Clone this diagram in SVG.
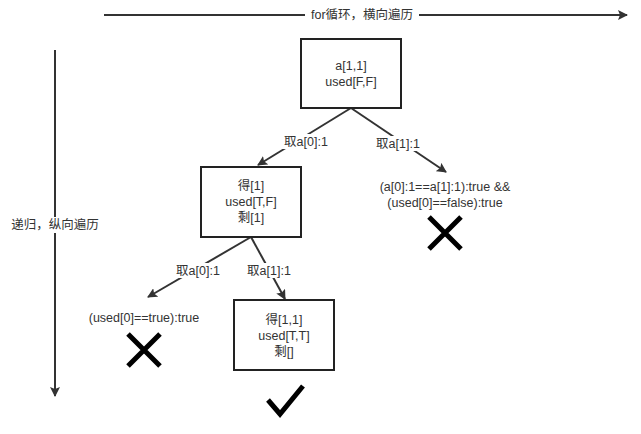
<svg xmlns="http://www.w3.org/2000/svg" width="641" height="434" viewBox="0 0 641 434">
<style>
text{font-family:"Liberation Sans","Noto Sans CJK SC",sans-serif;font-size:12.5px;fill:#333;text-anchor:middle}
.box{fill:#fff;stroke:#222;stroke-width:2}
.edge{stroke:#333;stroke-width:2;fill:none}
.mark{stroke:#000;stroke-width:5;fill:none}
</style>
<defs>
<marker id="ah" viewBox="0 0 10 10" refX="9" refY="5" markerWidth="5" markerHeight="5" orient="auto" markerUnits="strokeWidth">
<path d="M0,0 L10,5 L0,10 L2,5 Z" fill="#333"/>
</marker>
</defs>
<rect width="641" height="434" fill="#fff"/>
<g id="connectors">
<line class="edge" x1="104" y1="15" x2="627" y2="15" marker-end="url(#ah)"/>
<rect x="305" y="7" width="114" height="16" fill="#fff"/>
<text x="362" y="19">for循环，横向遍历</text>
<line class="edge" x1="55" y1="50" x2="55" y2="396" marker-end="url(#ah)"/>
<rect x="7" y="217" width="96" height="16" fill="#fff"/>
<text x="55" y="229">递归，纵向遍历</text>
<line class="edge" x1="351" y1="108" x2="258" y2="165" marker-end="url(#ah)"/>
<line class="edge" x1="351" y1="108" x2="446" y2="172" marker-end="url(#ah)"/>
<rect x="278" y="134" width="56" height="15" fill="#fff"/>
<text x="306" y="146">取a[0]:1</text>
<rect x="370" y="136" width="56" height="15" fill="#fff"/>
<text x="398" y="148">取a[1]:1</text>
<line class="edge" x1="251" y1="237" x2="148" y2="297" marker-end="url(#ah)"/>
<line class="edge" x1="251" y1="237" x2="285" y2="299" marker-end="url(#ah)"/>
<rect x="170" y="263" width="56" height="15" fill="#fff"/>
<text x="198" y="275">取a[0]:1</text>
<rect x="241" y="263" width="56" height="15" fill="#fff"/>
<text x="269" y="275">取a[1]:1</text>
</g>
<g id="root">
<rect class="box" x="301" y="39" width="100" height="69"/>
<text x="351" y="70">a[1,1]</text>
<text x="351" y="86">used[F,F]</text>
</g>
<g id="mid">
<rect class="box" x="201" y="167" width="100" height="70"/>
<text x="251" y="190">得[1]</text>
<text x="251" y="206">used[T,F]</text>
<text x="251" y="222">剩[1]</text>
</g>
<g id="right-fail">
<text x="445" y="191">(a[0]:1==a[1]:1):true &amp;&amp;</text>
<text x="445" y="207">(used[0]==false):true</text>
<path class="mark" d="M429,217 L461,249 M461,217 L429,249"/>
</g>
<g id="left-fail">
<text x="144" y="322">(used[0]==true):true</text>
<path class="mark" d="M128,334 L160,366 M160,334 L128,366"/>
</g>
<g id="leaf">
<rect class="box" x="234" y="300" width="100" height="70"/>
<text x="284" y="324">得[1,1]</text>
<text x="284" y="340">used[T,T]</text>
<text x="284" y="356">剩[]</text>
<path class="mark" d="M268,400 L280,414 L303,386"/>
</g>
</svg>
